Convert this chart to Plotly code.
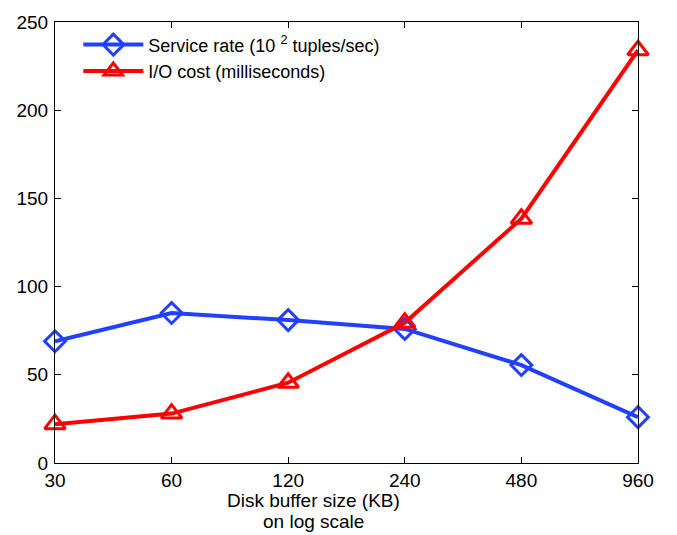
import plotly.graph_objects as go

buffer_kb = [30, 60, 120, 240, 480, 960]
service_rate = [69, 85, 81, 76, 55.5, 26]
io_cost = [22, 28, 45.5, 79.5, 138.5, 234]
x_tick_labels = ["30", "60", "120", "240", "480", "960"]
y_ticks = [0, 50, 100, 150, 200, 250]
x_title_lines = ["Disk buffer size (KB)", "on log scale"]

BLUE = "#2140ff"
RED = "#ff0000"
FONT = "Liberation Sans, Arial, sans-serif"

fig = go.Figure()
fig.add_trace(go.Scatter(
    x=buffer_kb, y=service_rate, mode="lines+markers",
    name="Service rate (10 <sup>2</sup> tuples/sec)",
    line=dict(color=BLUE, width=4),
    marker=dict(symbol="diamond-open", size=16, color=BLUE, line=dict(width=3, color=BLUE)),
    cliponaxis=False,
))
fig.add_trace(go.Scatter(
    x=buffer_kb, y=io_cost, mode="lines+markers",
    name="I/O cost (milliseconds)",
    line=dict(color=RED, width=4),
    marker=dict(symbol="triangle-up-open", size=18, color=RED, line=dict(width=3, color=RED)),
    cliponaxis=False,
))

axis_common = dict(
    showline=True, linecolor="black", linewidth=1, mirror="ticks",
    ticks="inside", ticklen=6, tickcolor="black", showgrid=False, zeroline=False,
    tickfont=dict(family=FONT, size=19, color="black"),
)

fig.update_xaxes(
    type="log", range=[1.4771, 2.9823],
    tickvals=buffer_kb, ticktext=x_tick_labels, ticklabelstandoff=0, **axis_common,
)
fig.update_yaxes(range=[0, 250], tickvals=y_ticks, ticklabelstandoff=2, **axis_common)

# two-line axis caption, slightly left of the plot centre
for line_text, y_pos in zip(x_title_lines, [-0.0844, -0.1333]):
    fig.add_annotation(
        text=line_text, xref="paper", yref="paper",
        x=0.443, y=y_pos, xanchor="center", yanchor="middle", showarrow=False,
        font=dict(family=FONT, size=19, color="black"),
    )

fig.update_layout(
    width=677, height=535,
    margin=dict(l=55, r=39, t=13, b=72),
    paper_bgcolor="white", plot_bgcolor="white",
    font=dict(family=FONT, color="black"),
    showlegend=True,
    legend=dict(
        x=0.04, y=0.99, xanchor="left", yanchor="top",
        bgcolor="rgba(255,255,255,0)", borderwidth=0,
        font=dict(family=FONT, size=18, color="black"),
        itemwidth=60, tracegroupgap=0,
    ),
)

fig.write_html("out.html")
